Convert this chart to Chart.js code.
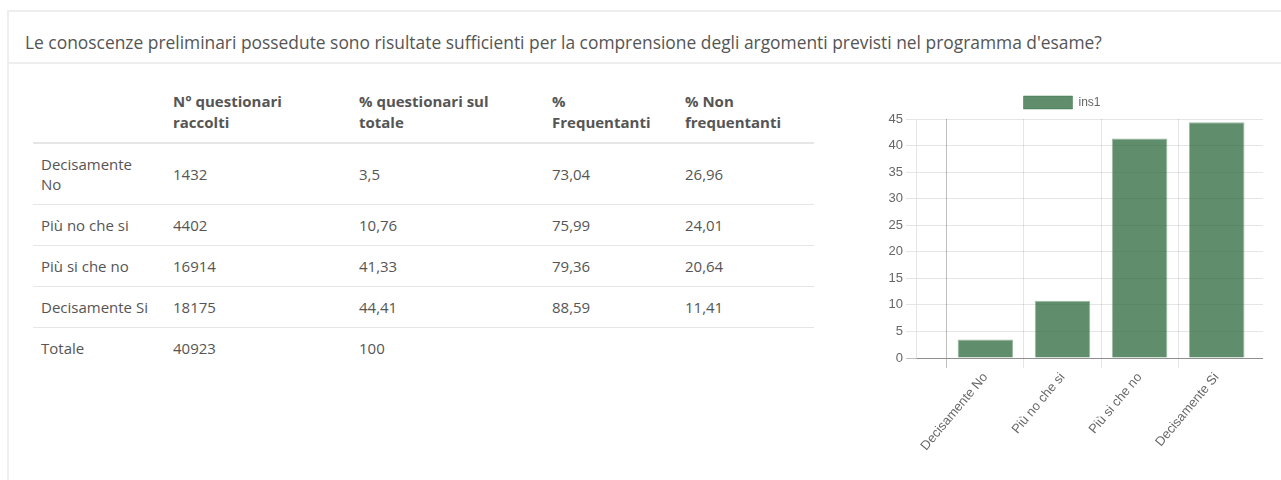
<!DOCTYPE html>
<html>
<head>
<meta charset="utf-8">
<script src="https://cdn.jsdelivr.net/npm/chart.js@4.4.0/dist/chart.umd.min.js"></script>
<style>
  body { margin: 0; background: #fff; font-family: "Open Sans", sans-serif; color: #555; font-size: 15px; }
  .panel { position: absolute; left: 7px; top: 10px; width: 1300px; height: 490px; border: 2px solid #eeeeee; border-right: none; box-sizing: border-box; }
  .panel-heading { height: 52px; border-bottom: 2px solid #eeeeee; padding: 20px 0 0 16px; box-sizing: border-box; line-height: 20px; font-size: 17.4px; white-space: nowrap; }
  table { position: absolute; left: 24px; top: 70px; width: 781px; border-collapse: collapse; table-layout: fixed; }
  th, td { padding: 10px 8px; line-height: 20px; text-align: left; white-space: nowrap; }
  th { font-weight: bold; vertical-align: bottom; border-bottom: 2px solid #e6e6e6; line-height: 21px; padding-top: 9px; padding-bottom: 9px; }
  td { vertical-align: middle; }
  tbody tr + tr td { border-top: 1px solid #e6e6e6; }
  .chart-box { position: absolute; left: 852px; top: 74px; width: 402px; height: 384px; }
</style>
</head>
<body>
<div class="panel">
  <div class="panel-heading" id="question"></div>
  <table id="tab">
    <colgroup><col style="width:132px"><col style="width:186px"><col style="width:193px"><col style="width:133px"><col style="width:137px"></colgroup>
    <thead><tr id="head"></tr></thead>
    <tbody id="body"></tbody>
  </table>
  <div class="chart-box"><canvas id="chart" width="402" height="384"></canvas></div>
</div>
<script>
// dati della domanda
var question = "Le conoscenze preliminari possedute sono risultate sufficienti per la comprensione degli argomenti previsti nel programma d'esame?";
var headers = ['', 'N° questionari<br>raccolti', '% questionari sul<br>totale', '%<br>Frequentanti', '% Non<br>frequentanti'];
var categories = ['Decisamente No', 'Più no che si', 'Più si che no', 'Decisamente Si'];
var rowLabels = ['Decisamente<br>No', 'Più no che si', 'Più si che no', 'Decisamente Si'];
var counts = [1432, 4402, 16914, 18175];
var pctTotale = [3.5, 10.76, 41.33, 44.41];
var pctFreq = [73.04, 75.99, 79.36, 88.59];
var pctNonFreq = [26.96, 24.01, 20.64, 11.41];
var totalCount = 40923;
var totalPct = 100;

function fmt(v) { return String(v).replace('.', ','); }

document.getElementById('question').textContent = question;
document.getElementById('head').innerHTML = headers.map(h => '<th>' + h + '</th>').join('');
var rows = categories.map((c, i) =>
  '<tr><td>' + rowLabels[i] + '</td><td>' + counts[i] + '</td><td>' + fmt(pctTotale[i]) +
  '</td><td>' + fmt(pctFreq[i]) + '</td><td>' + fmt(pctNonFreq[i]) + '</td></tr>');
rows.push('<tr><td>Totale</td><td>' + totalCount + '</td><td>' + totalPct + '</td><td></td><td></td></tr>');
document.getElementById('body').innerHTML = rows.join('');

// grafico
var family = "'Liberation Sans', Arial, sans-serif";
var tickFont = { family: family, size: 13 };
var gridLight = 'rgba(0,0,0,0.1)';
var gridDark = 'rgba(0,0,0,0.25)';

new Chart(document.getElementById('chart'), {
  type: 'bar',
  data: {
    datasets: [{
      label: 'ins1',
      data: categories.map((c, i) => ({ x: i, y: pctTotale[i] })),
      backgroundColor: 'rgba(46,107,62,0.76)',
      borderColor: 'rgba(46,107,62,0.45)',
      borderWidth: 1
    }]
  },
  options: {
    responsive: false,
    animation: false,
    plugins: {
      legend: {
        labels: { boxWidth: 49, boxHeight: 13, font: { family: family, size: 12 }, color: '#666' }
      },
      tooltip: { enabled: false }
    },
    scales: {
      x: {
        type: 'linear',
        offset: false,
        min: -0.9,
        max: 3.6,
        afterBuildTicks: s => { s.ticks = categories.map((c, i) => ({ value: i })); },
        afterFit: s => { s.height = 112; },
        ticks: {
          autoSkip: false, minRotation: 50, maxRotation: 50, padding: 2,
          font: tickFont, color: '#666',
          callback: v => categories[v]
        },
        grid: {
          offset: true,
          tickLength: 10,
          color: c => c.type !== 'tick' ? 'rgba(0,0,0,0)' : (c.index === 0 ? gridDark : gridLight)
        },
        border: { color: gridDark }
      },
      y: {
        min: 0,
        max: 45,
        afterFit: s => { s.width = 55; },
        ticks: { stepSize: 5, padding: 3, font: tickFont, color: '#666' },
        grid: {
          tickLength: 10,
          color: c => c.tick && c.tick.value === 0 ? gridDark : gridLight
        },
        border: { color: gridLight }
      }
    }
  }
});
</script>
</body>
</html>
